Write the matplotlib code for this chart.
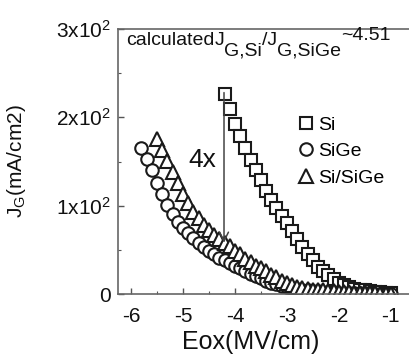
import matplotlib
matplotlib.use("Agg")
import matplotlib.pyplot as plt
from matplotlib.ticker import MultipleLocator, FixedLocator

plt.rcParams['font.family'] = ['Liberation Sans', 'DejaVu Sans']
plt.rcParams['mathtext.fontset'] = 'custom'
plt.rcParams['mathtext.rm'] = 'Liberation Sans'
plt.rcParams['mathtext.it'] = 'Liberation Sans'

# ---- data ----
si_x = [-4.2, -4.1, -4.0, -3.9, -3.8, -3.7, -3.6, -3.5, -3.4, -3.3, -3.2, -3.1,
        -3.0, -2.9, -2.8, -2.7, -2.6, -2.5, -2.4, -2.3, -2.2, -2.1, -2.0, -1.9,
        -1.8, -1.7, -1.6, -1.5, -1.4, -1.3, -1.2, -1.1, -1.0]
si_y = [226, 209, 193, 179, 165, 152, 140, 129, 117, 106, 97, 88,
        80, 71, 62, 53, 45, 38, 31, 26, 21, 17, 13, 10,
        8, 6, 5, 4, 3, 2.5, 2, 1.5, 1]

sige_x = [-5.8, -5.7, -5.6, -5.5, -5.4, -5.3, -5.2, -5.1, -5.0, -4.9, -4.8, -4.7,
          -4.6, -4.5, -4.4, -4.3, -4.2, -4.1, -4.0, -3.9, -3.8, -3.7, -3.6, -3.5,
          -3.4, -3.3, -3.2, -3.1, -3.0, -2.9, -2.8, -2.7, -2.6, -2.5, -2.4, -2.3,
          -2.2, -2.1, -2.0, -1.9, -1.8, -1.7, -1.6, -1.5, -1.4, -1.3, -1.2, -1.1, -1.0]
sige_y = [165, 153, 140, 126, 113, 101, 91, 82, 75, 69, 63, 58,
          53, 49, 45, 41, 38, 35, 32, 29, 26, 23, 20, 18,
          15, 13, 11, 9, 7.5, 6.5, 5.5, 4.5, 4, 3.5, 3, 2.5,
          2, 2, 1.5, 1.5, 1, 1, 1, 0.8, 0.8, 0.5, 0.5, 0.5, 0.5]

sisige_x = [-5.5, -5.4, -5.3, -5.2, -5.1, -5.0, -4.9, -4.8, -4.7, -4.6, -4.5, -4.4,
            -4.3, -4.2, -4.1, -4.0, -3.9, -3.8, -3.7, -3.6, -3.5, -3.4, -3.3, -3.2,
            -3.1, -3.0, -2.9, -2.8, -2.7, -2.6, -2.5, -2.4, -2.3, -2.2, -2.1, -2.0,
            -1.9, -1.8, -1.7, -1.6, -1.5, -1.4, -1.3, -1.2, -1.1, -1.0]
sisige_y = [176, 163, 151, 138, 126, 113, 103, 93, 86, 78, 72, 67,
            62, 58, 54, 49, 45, 40, 36, 32, 29, 26, 22, 19,
            15, 12, 10, 8, 7, 6, 5, 4.5, 4, 3.5, 3, 2.5,
            2, 2, 1.5, 1.2, 1, 0.8, 0.6, 0.5, 0.4, 0.3]

series_labels = ['Si', 'SiGe', 'Si/SiGe']
ytick_vals = [0, 100, 200, 300]
ytick_labels = ['0', r'$\mathregular{1x10^2}$', r'$\mathregular{2x10^2}$', r'$\mathregular{3x10^2}$']
xtick_vals = [-6, -5, -4, -3, -2, -1]
xtick_labels = ['-6', '-5', '-4', '-3', '-2', '-1']
# header text pieces: (text, level) level 0 = baseline, -1 = subscript, +1 = raised
header_pieces = [('calculated', 0), ('J', 0), ('G,Si', -1), ('/J', 0),
                 ('G,SiGe', -1), ('~4.51', 1)]

# ---- figure ----
W, H = 409, 354
fig = plt.figure(figsize=(W / 100, H / 100), dpi=100)
ax = fig.add_axes([118/W, 60/H, 1 - 118/W, 265/H])

ec = '#1a1a1a'
kw = dict(ls='none', mfc='white', mec=ec, mew=1.5)
ax.plot(si_x, si_y, marker='s', ms=8, label=series_labels[0], **kw)
ax.plot(sige_x, sige_y, marker='o', ms=9, label=series_labels[1], **kw)
ax.plot(sisige_x, sisige_y, marker='^', ms=10, label=series_labels[2], **kw)

ax.set_xlim(-6.25, -0.65)
ax.set_ylim(0, 300)

ax.xaxis.set_major_locator(FixedLocator(xtick_vals))
ax.set_xticklabels(xtick_labels)
ax.xaxis.set_minor_locator(MultipleLocator(0.5))
ax.yaxis.set_major_locator(FixedLocator(ytick_vals))
ax.set_yticklabels(ytick_labels)
ax.yaxis.set_minor_locator(MultipleLocator(50))

ax.tick_params(which='both', direction='in', colors='#555555', labelcolor='#111111')
ax.tick_params(which='major', length=4, width=1, labelsize=15)
ax.tick_params(axis='x', which='major', pad=9)
ax.tick_params(axis='y', which='major', pad=5)
ax.tick_params(which='minor', length=2.5, width=0.8)

for s in ['left', 'bottom', 'top']:
    ax.spines[s].set_color('#666666')
    ax.spines[s].set_linewidth(1.2)
ax.spines['right'].set_visible(False)

ax.set_xlabel('Eox(MV/cm)', fontsize=18, color='#111111')
ax.xaxis.set_label_coords(0.457, -0.135)
ax.xaxis.label.set_va('top')
ax.set_ylabel(r'$\mathregular{J_G}$(mA/cm2)', fontsize=15, color='#111111')
ax.yaxis.set_label_coords(-0.31, 0.5)

leg = ax.legend(loc='upper left', bbox_to_anchor=(0.6, 0.7), frameon=False,
                fontsize=14, handlelength=0.6, handletextpad=0.3,
                labelspacing=0.45, borderaxespad=0, numpoints=1)

# arrow 4x
ax.annotate('', xy=(-4.21, 58), xytext=(-4.21, 228),
            arrowprops=dict(arrowstyle='->', color='#444444', lw=1.1,
                            mutation_scale=16, shrinkA=0, shrinkB=0))
ax.text(-4.63, 152, '4x', fontsize=19, ha='center', va='center', color='#111111')

# header text, built piece by piece
fig.canvas.draw()
renderer = fig.canvas.get_renderer()
xpix = 126
base = {0: 45, -1: 56, 1: 40}
for txt, lev in header_pieces:
    t = fig.text(xpix / W, (H - base[lev]) / H, txt, fontsize=14,
                 ha='left', va='baseline', color='#111111')
    bb = t.get_window_extent(renderer)
    xpix = bb.x1

fig.savefig('out.png', dpi=100)
